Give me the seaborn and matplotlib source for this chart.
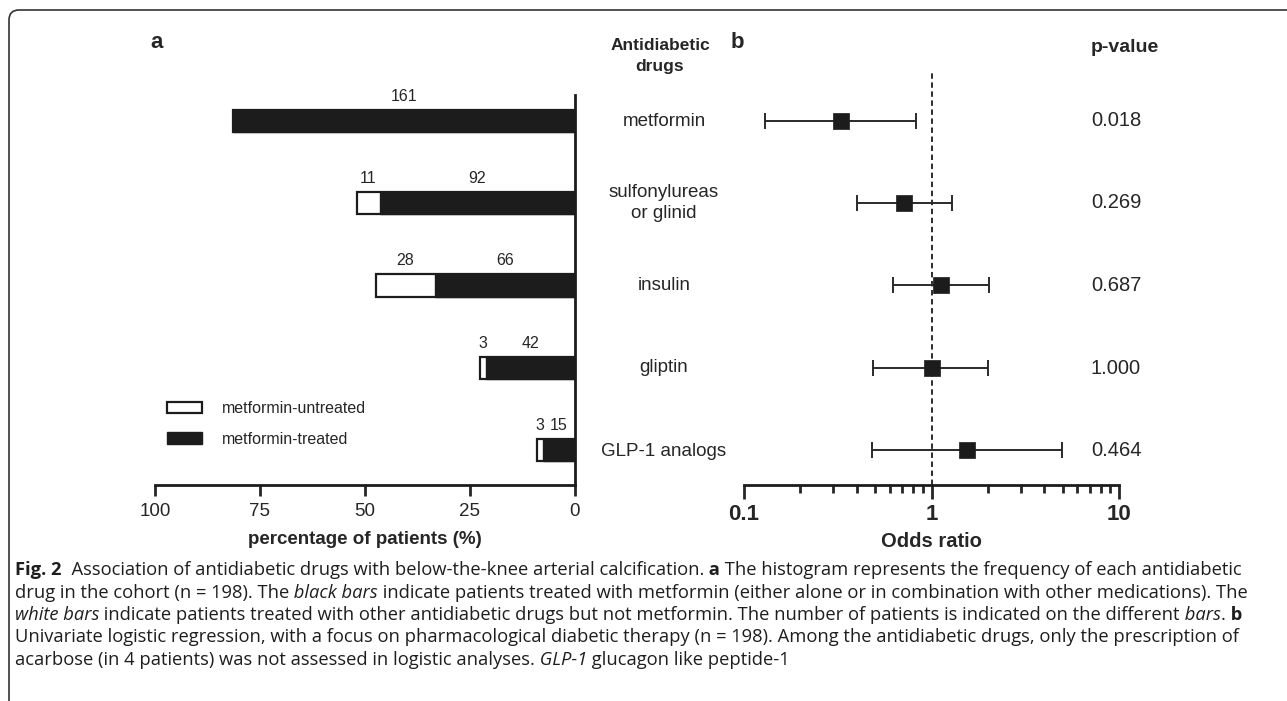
import numpy as np
import pandas as pd
import matplotlib
matplotlib.use("Agg")
import matplotlib.pyplot as plt
import seaborn as sns
from matplotlib.patches import FancyBboxPatch
from matplotlib.transforms import IdentityTransform
from matplotlib.ticker import FixedLocator, NullFormatter

# Data
drugs = ["metformin", "sulfonylureas\nor glinid", "insulin", "gliptin", "GLP-1 analogs"]
n_treated = [161, 92, 66, 42, 15]
n_untreated = [0, 11, 28, 3, 3]
n_cohort = 198

odds_ratio = [0.33, 0.71, 1.13, 1.00, 1.55]
ci_low = [0.13, 0.40, 0.62, 0.49, 0.48]
ci_high = [0.83, 1.29, 2.03, 2.00, 4.97]
p_values = ["0.018", "0.269", "0.687", "1.000", "0.464"]

df = pd.DataFrame({
    "drug": drugs,
    "treated": n_treated,
    "untreated": n_untreated,
})
df["treated_pct"] = df["treated"] / n_cohort * 100
df["total_pct"] = (df["treated"] + df["untreated"]) / n_cohort * 100

sns.set_style("white")
plt.rcParams["font.family"] = ["Liberation Sans", "DejaVu Sans"]

W, H = 1287, 701
fig = plt.figure(figsize=(W / 100, H / 100), dpi=100)


def px(x, y):
    return x / W, 1 - y / H


dark = "#1c1c1c"
ylims = (4.424, -0.594)

# Panel a: stacked horizontal bars
ax_a = fig.add_axes([155 / W, 1 - 485 / H, 420 / W, 413 / H])
sns.barplot(data=df, x="total_pct", y="drug", orient="h", color="white",
            edgecolor=dark, linewidth=1.6, width=0.27, saturation=1,
            label="metformin-untreated", ax=ax_a)
sns.barplot(data=df, x="treated_pct", y="drug", orient="h", color=dark,
            edgecolor=dark, linewidth=1.0, width=0.27, saturation=1,
            label="metformin-treated", ax=ax_a)
ax_a.set_xlim(100, 0)
ax_a.set_ylim(*ylims)
ax_a.set_xticks([100, 75, 50, 25, 0])
ax_a.set_xticklabels(["100", "75", "50", "25", "0"], fontsize=13.5)
ax_a.set_ylabel("")
ax_a.set_xlabel("percentage of patients (%)", fontsize=13.5, fontweight="bold", labelpad=8)
sns.despine(ax=ax_a, left=True, top=True, right=False)
ax_a.tick_params(axis="x", direction="out", length=8, width=2, bottom=True, pad=5)
ax_a.tick_params(axis="y", length=0, left=False, right=False,
                 labelleft=False, labelright=False)
for s in ["right", "bottom"]:
    ax_a.spines[s].set_linewidth(2)
    ax_a.spines[s].set_color(dark)
ax_a.spines["right"].set_bounds(4.424, -0.315)

# count labels over each segment
for i, row in df.iterrows():
    ax_a.text(row["treated_pct"] / 2, i - 0.30, str(row["treated"]),
              ha="center", va="center", fontsize=11.5)
    if row["untreated"] > 0:
        ax_a.text((row["treated_pct"] + row["total_pct"]) / 2, i - 0.30,
                  str(row["untreated"]), ha="center", va="center", fontsize=11.5)

leg = ax_a.legend(loc="upper left", bbox_to_anchor=(-0.005, 0.237), frameon=False,
                  fontsize=11.5, handlelength=2.2, handleheight=0.7,
                  labelspacing=0.95, handletextpad=1.25)

# Panel b: forest plot
ypos = np.arange(len(drugs))
or_arr = np.array(odds_ratio)
ax_b = fig.add_axes([744 / W, 1 - 485 / H, 375 / W, 413 / H])
ax_b.set_xscale("log")
ax_b.axvline(1, ls=(0, (3, 2)), color=dark, lw=1.3, zorder=1)
ax_b.errorbar(or_arr, ypos, xerr=[or_arr - np.array(ci_low), np.array(ci_high) - or_arr],
              fmt="none", ecolor="#2a2a2a", elinewidth=1.4, capsize=5.8, capthick=1.4, zorder=2)
sns.scatterplot(x=or_arr, y=ypos, marker="s", s=140, color=dark, edgecolor=dark,
                linewidth=0.5, ax=ax_b, zorder=3)
ax_b.set_xlim(0.1, 10)
ax_b.set_ylim(*ylims)
ax_b.set_yticks([])
ax_b.xaxis.set_major_locator(FixedLocator([0.1, 1, 10]))
ax_b.set_xticklabels(["0.1", "1", "10"], fontsize=16, fontweight="bold")
minor = [m * d for d in (0.1, 1) for m in range(2, 10)]
ax_b.xaxis.set_minor_locator(FixedLocator(minor))
ax_b.xaxis.set_minor_formatter(NullFormatter())
ax_b.tick_params(axis="x", which="major", direction="out", length=10, width=2, bottom=True, pad=4)
ax_b.tick_params(axis="x", which="minor", direction="out", length=6, width=2, bottom=True)
ax_b.set_xlabel("Odds ratio", fontsize=14.5, fontweight="bold", labelpad=5)
sns.despine(ax=ax_b, left=True, top=True, right=True)
ax_b.spines["bottom"].set_linewidth(2)
ax_b.spines["bottom"].set_color(dark)

# middle labels and p-values
row_px = [121, 203, 285, 368, 451]
for yy, name, p in zip(row_px, drugs, p_values):
    fig.text(*px(664, yy), name, ha="center", va="center", fontsize=13.5, linespacing=1.3)
    fig.text(*px(1091, yy), p, ha="left", va="center", fontsize=14.5)

fig.text(*px(660, 45), "Antidiabetic", ha="center", va="center", fontsize=12.5, fontweight="bold")
fig.text(*px(660, 67), "drugs", ha="center", va="center", fontsize=12.5, fontweight="bold")
fig.text(*px(1091, 48), "p-value", ha="left", va="center", fontsize=14, fontweight="bold")
fig.text(*px(150, 42), "a", ha="left", va="center", fontsize=16, fontweight="bold")
fig.text(*px(731, 42), "b", ha="left", va="center", fontsize=16, fontweight="bold")

# frame with rounded corner
frame = FancyBboxPatch((9, -30), 1400, H - 10 + 30,
                       boxstyle="round,pad=0,rounding_size=10",
                       transform=IdentityTransform(), fill=False,
                       edgecolor="#333333", lw=1.2, clip_on=False)
fig.add_artist(frame)

# caption
cap_font = ["Open Sans", "DejaVu Sans"]
caption = [
    [("Fig. 2", "bold", "normal"),
     ("  Association of antidiabetic drugs with below-the-knee arterial calcification.", "normal", "normal"),
     (" a", "bold", "normal"),
     (" The histogram represents the frequency of each antidiabetic", "normal", "normal")],
    [("drug in the cohort (n = 198). The", "normal", "normal"),
     (" black bars", "normal", "italic"),
     (" indicate patients treated with metformin (either alone or in combination with other medications). The", "normal", "normal")],
    [("white bars", "normal", "italic"),
     (" indicate patients treated with other antidiabetic drugs but not metformin. The number of patients is indicated on the different", "normal", "normal"),
     (" bars", "normal", "italic"),
     (".", "normal", "normal"),
     (" b", "bold", "normal")],
    [("Univariate logistic regression, with a focus on pharmacological diabetic therapy (n = 198). Among the antidiabetic drugs, only the prescription of", "normal", "normal")],
    [("acarbose (in 4 patients) was not assessed in logistic analyses.", "normal", "normal"),
     (" GLP-1", "normal", "italic"),
     (" glucagon like peptide-1", "normal", "normal")],
]

renderer = fig.canvas.get_renderer()
probe = fig.text(0, 0, caption[3][0][0], fontsize=10, family=cap_font)
probe_w = probe.get_window_extent(renderer).width
probe.remove()
cap_size = 10 * 1223 / probe_w

line_y = [570, 592.5, 615, 637.5, 660]
for yy, segs in zip(line_y, caption):
    x = 15
    for txt, wt, st in segs:
        t = fig.text(*px(x, yy), txt, ha="left", va="center", fontsize=cap_size,
                     fontweight=wt, fontstyle=st, family=cap_font, color="#1e1e1e")
        x += t.get_window_extent(renderer).width

fig.savefig("out.png", dpi=100)
